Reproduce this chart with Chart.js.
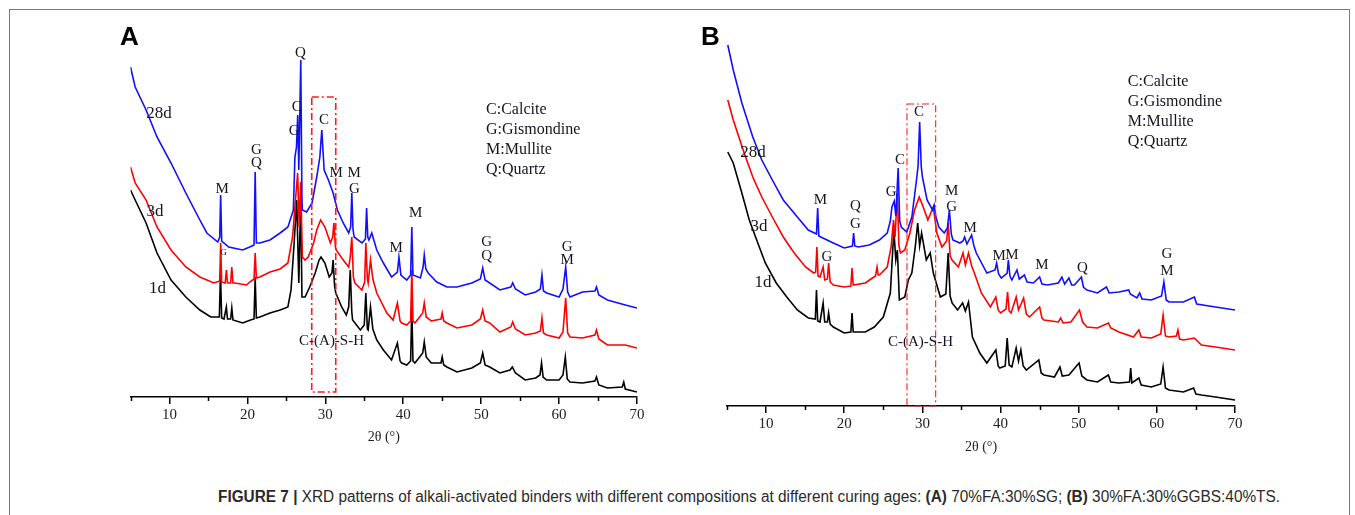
<!DOCTYPE html>
<html><head><meta charset="utf-8">
<script src="https://cdn.jsdelivr.net/npm/chart.js@4.4.0/dist/chart.umd.min.js"></script>
<style>
html,body{margin:0;padding:0;background:#fff;width:1355px;height:515px;overflow:hidden;}
#frame{position:absolute;left:9px;top:9px;width:1341px;height:600px;border:1.5px solid #7a7a7a;box-sizing:border-box;}
canvas{position:absolute;top:0;}
#cA{left:0px}
#cB{left:677px}
#cap{position:absolute;left:218px;top:487px;white-space:nowrap;font-family:'Liberation Sans Narrow','Liberation Sans',Arial,sans-serif;font-size:16px;line-height:20px;color:#2a2a2a;transform-origin:0 0;}
</style></head><body>
<div id="frame"></div>
<canvas id="cA" width="677" height="460"></canvas>
<canvas id="cB" width="678" height="470"></canvas>
<div id="cap"><b>FIGURE 7 |</b> XRD patterns of alkali-activated binders with different compositions at different curing ages: <b>(A)</b> 70%FA:30%SG; <b>(B)</b> 30%FA:30%GGBS:40%TS.</div>
<script>
// ---------- DATA (2θ in degrees, intensity in arbitrary units) ----------
const majorTicks = [10, 20, 30, 40, 50, 60, 70];
const minorTicks = [5, 15, 25, 35, 45, 55, 65];
const seriesNames = ['28d', '3d', '1d'];

// Panel A: 70%FA:30%SG
const thetaA28 = [5.0,5.6,7.0,8.4,10.2,12.1,13.9,14.8,16.2,16.45,16.57,16.7,17.6,19.4,20.3,20.85,21.0,21.15,21.6,22.9,24.2,25.2,25.9,26.1,26.3,26.46,26.6,26.85,27.0,27.05,27.6,28.3,28.9,29.3,29.55,29.85,30.4,31.0,31.55,32.3,33.0,33.25,33.4,33.55,33.7,34.7,35.15,35.3,35.45,35.6,35.96,36.6,37.45,38.5,39.25,39.45,39.7,40.45,40.95,41.1,41.25,42.2,42.55,42.7,42.9,43.2,44.3,45.6,46.9,48.8,49.9,50.2,50.5,51.1,52.4,53.8,54.05,54.4,55.65,57.0,57.6,57.8,58.0,58.4,60.0,60.5,60.85,61.1,61.4,63.0,64.6,64.8,65.1,66.2,68.5,70.0];
const intA28   = [330,310,287,260,234,204,177,164,155,160,202,156,150,147,150,152,225,154,154,157,164,170,187,240,250,282,227,337,200,187,185,194,220,240,267,227,217,204,187,174,164,170,204,168,160,154,158,189,160,157,164,147,134,120,125,140,122,117,122,170,122,119,130,142,128,124,115,110,110,114,118,129,117,114,107,110,114,108,102,105,108,122,106,104,100,108,130,105,100,105,106,110,102,97,92,89];

const thetaA3 = [5.0,5.6,7.0,8.4,10.2,12.1,13.9,15.7,16.45,16.57,16.7,17.15,17.3,17.45,17.85,18.0,18.15,18.4,19.9,20.3,20.85,21.0,21.15,21.6,22.9,24.2,25.2,25.8,26.1,26.45,26.65,26.85,27.05,27.4,27.8,28.5,28.9,29.4,29.95,30.65,30.95,31.1,31.3,31.4,32.3,33.0,33.2,33.4,33.6,33.8,34.7,35.05,35.2,35.4,35.5,35.8,36.1,36.6,37.9,38.7,39.25,39.6,39.8,40.45,40.95,41.1,41.25,41.5,42.5,42.7,42.95,43.6,44.85,45.0,45.2,45.6,46.9,48.8,49.9,50.2,50.5,51.1,52.4,53.8,54.05,54.4,55.65,57.0,57.6,57.8,58.0,58.4,60.0,60.5,60.85,61.1,61.4,63.0,64.6,64.8,65.1,66.2,68.5,70.0];
const intA3   = [230,214,197,170,147,130,120,114,116,154,115,114,127,114,114,130,114,114,112,115,118,144,119,120,125,128,134,160,190,224,170,215,140,137,140,154,167,177,170,154,160,174,150,147,137,130,140,160,120,114,107,115,154,118,114,137,118,104,84,77,94,76,74,72,76,127,76,74,84,94,80,76,78,84,76,74,69,72,78,87,76,74,65,70,75,68,62,64,66,79,64,62,59,65,99,64,60,59,62,67,58,52,52,49];

const thetaA1 = [5.0,5.6,7.0,8.4,10.2,12.1,13.9,15.3,16.4,16.55,16.7,17.0,17.3,17.45,17.85,18.0,18.15,19.4,20.4,20.85,21.0,21.15,21.6,22.9,24.2,25.2,25.6,26.0,26.33,26.6,26.85,27.0,27.4,28.0,28.7,29.2,29.45,29.95,30.5,30.85,31.0,31.2,31.35,32.1,32.7,33.0,33.2,33.4,33.5,34.5,35.0,35.2,35.4,35.5,35.8,36.1,36.6,37.45,38.5,39.25,39.6,39.8,40.45,40.95,41.1,41.25,41.5,42.5,42.7,42.95,43.6,44.85,45.0,45.2,45.6,46.9,48.8,49.9,50.2,50.5,51.1,52.4,53.7,54.0,54.4,55.65,57.0,57.55,57.75,57.95,58.4,60.0,60.5,60.8,61.05,61.4,63.0,64.6,64.8,65.1,66.2,68.1,68.3,68.5,70.0];
const intA1   = [207,197,174,144,117,100,87,80,80,124,79,78,90,78,78,89,77,74,77,78,120,79,80,84,87,90,107,154,197,114,200,100,100,110,124,137,140,134,120,124,137,110,104,90,82,90,127,85,77,67,72,104,68,67,90,68,57,47,37,54,36,34,32,36,90,36,34,44,55,40,34,34,40,32,30,25,29,34,44,32,30,24,27,30,24,17,19,22,34,20,17,17,22,40,18,15,14,16,20,12,9,10,15,8,5];

// Panel B: 30%FA:30%GGBS:40%TS
const thetaB28 = [5.1,5.8,6.9,8.3,9.45,10.8,12.2,14.0,15.4,16.45,16.6,16.75,17.0,18.6,20.0,21.05,21.2,21.35,21.8,23.2,24.5,25.5,25.9,26.1,26.4,26.6,26.9,27.1,27.3,28.0,28.65,29.2,29.45,29.65,29.85,30.0,30.6,31.3,31.5,31.7,32.1,32.8,33.2,33.45,33.7,33.9,34.8,35.2,35.4,35.7,36.3,36.6,36.9,38.25,39.3,39.5,39.75,40.1,40.85,41.0,41.2,41.45,42.1,42.4,43.05,43.4,44.2,45.0,45.3,46.0,47.4,47.85,48.2,48.75,49.1,49.45,50.35,50.6,51.05,52.4,53.55,53.9,55.15,56.4,56.6,57.45,57.8,58.1,59.3,60.6,60.9,61.2,61.55,63.4,64.8,65.1,67.5,70.0];
const intB28   = [361,336,303,269,246,226,206,189,176,172,198,170,169,163,158,160,173,160,159,161,166,173,185,199,205,190,238,185,179,174,189,223,240,284,240,229,206,196,201,190,179,173,178,196,172,166,163,165,169,162,171,160,153,133,136,143,132,128,133,146,130,126,136,127,131,124,123,129,122,121,123,129,122,128,121,121,129,119,116,113,119,113,114,116,112,108,113,107,106,110,124,106,104,104,109,102,99,96];

const thetaB3 = [5.1,5.8,7.2,8.3,9.45,10.8,12.2,13.6,15.05,16.1,16.35,16.5,16.65,16.9,17.3,17.5,17.85,18.0,18.2,18.6,20.0,20.85,21.0,21.15,22.7,23.6,24.0,24.2,24.35,24.5,25.5,26.0,26.3,26.5,26.8,27.0,27.2,27.75,28.4,29.0,29.6,30.1,30.7,31.4,31.85,32.5,33.1,33.3,33.55,33.8,34.6,35.2,35.5,35.9,36.3,36.65,37.55,38.7,39.4,39.7,40.0,40.7,40.9,41.1,41.35,42.0,42.3,42.95,43.3,43.7,45.0,45.3,45.55,47.4,47.7,48.0,49.0,50.1,50.5,51.05,52.4,53.8,54.1,55.15,57.0,57.7,58.0,59.3,60.5,60.8,61.1,61.55,62.5,62.7,62.9,63.4,64.8,65.7,67.5,70.0];
const intB3   = [306,286,253,229,209,189,169,153,139,133,134,159,130,129,139,126,127,143,124,121,119,120,138,121,123,128,130,139,131,131,139,159,186,169,213,160,153,156,173,196,209,199,186,199,173,159,165,183,150,146,139,153,141,153,140,133,113,99,109,96,93,97,114,95,93,109,96,108,92,89,99,88,86,84,88,83,84,96,84,79,78,83,78,74,69,76,69,68,72,91,70,69,70,76,67,66,68,61,59,56];

const thetaB1 = [5.1,5.8,6.9,7.85,8.8,9.9,11.3,12.65,14.0,15.4,16.3,16.45,16.6,16.9,17.3,17.5,17.85,18.0,18.2,18.6,20.0,20.85,21.0,21.15,22.7,23.85,25.0,25.9,26.35,26.6,26.8,27.05,27.75,28.2,28.65,29.1,29.4,29.65,29.9,30.5,31.0,31.4,32.3,33.0,33.3,33.55,33.8,34.5,35.15,35.5,35.9,36.4,37.35,38.25,39.4,39.7,39.9,40.6,40.85,41.1,41.45,42.0,42.3,42.6,42.9,43.3,44.9,45.2,45.55,46.9,47.6,47.9,48.75,50.05,50.4,51.05,52.4,53.8,54.1,55.15,56.5,56.65,56.8,57.7,58.0,59.3,60.5,60.8,61.1,61.55,63.4,64.7,65.0,65.7,67.5,70.0];
const intB1   = [254,243,213,186,166,143,123,109,96,88,87,116,85,84,103,84,84,93,82,79,73,74,93,74,74,79,89,113,176,146,156,106,109,126,133,160,183,160,173,146,153,133,109,112,153,110,103,96,103,95,104,69,53,43,56,40,38,40,68,41,39,58,45,56,40,36,46,33,31,29,39,30,31,43,30,26,24,31,24,23,24,38,23,28,21,19,22,39,18,16,14,18,12,11,9,6];

// ---------- ANNOTATIONS (text + phase markers) ----------
const legendText = ['C:Calcite', 'G:Gismondine', 'M:Mullite', 'Q:Quartz'];
const labelsA = [
  ['28d',8.66,283,'age'],['3d',8.15,185.5,'age'],['1d',8.45,108,'age'],
  ['M',16.75,208,'pk'],['G',16.94,144,'sm'],['G',21.17,247,'pk'],['Q',21.17,233.5,'pk'],
  ['C',26.34,290,'pk'],['G',25.99,266,'pk'],['Q',26.82,344,'pk'],['C',29.84,277,'pk'],
  ['M',31.38,224,'pk'],['M',33.69,224,'pk'],['G',33.75,207.7,'pk'],['M',39.08,149,'pk'],
  ['M',41.6,183.7,'pk'],['G',50.7,155,'pk'],['Q',50.7,141,'pk'],['G',61.03,150,'pk'],['M',61.03,137,'pk'],
  ['C-(A)-S-H',30.8,55.5,'pk']
];
const legendA = {theta:50.63, top:287.7, step:20};
const rectA = [28.26, 31.34, 5, 300];
const labelsB = [
  ['28d',8.33,253.5,'age'],['3d',9.1,179.5,'age'],['1d',9.6,123,'age'],
  ['M',16.96,206,'pk'],['Q',21.44,199.5,'pk'],['G',21.44,182,'pk'],['G',17.8,148.5,'pk'],
  ['G',26.02,214.3,'pk'],['C',27.14,246,'pk'],['C',29.57,294.3,'pk'],['M',33.75,215.3,'pk'],['G',33.75,199.3,'pk'],
  ['M',36.1,178,'pk'],['M',39.82,149.5,'pk'],['M',41.47,151,'pk'],['M',45.3,141,'pk'],['Q',50.49,138,'pk'],
  ['G',61.3,152,'pk'],['M',61.3,134.5,'pk'],['C-(A)-S-H',29.76,64.3,'pk']
];
const legendB = {theta:56.29, top:324.3, step:20};
const rectB = [28.03, 31.7, 0, 302];

// ---------- CHART BUILDING ----------
const colors = ['#1010ff', '#ff0000', '#000000'];
function pts(xs, ys){ return xs.map((v,i)=>({x:v, y:ys[i]})); }

function annotPlugin(labels, legend, rect, rectW, letter, letterX){
  return {
    id:'annot',
    afterDraw(chart){
      const {ctx, scales:{x, y}} = chart;
      ctx.save();
      // minor ticks
      ctx.strokeStyle = '#000'; ctx.lineWidth = 1.5;
      minorTicks.forEach(t=>{
        const px = Math.round(x.getPixelForValue(t))+0.5;
        ctx.beginPath(); ctx.moveTo(px, x.top); ctx.lineTo(px, x.top+4); ctx.stroke();
      });
      // dash-dot rectangle (C-(A)-S-H region)
      ctx.strokeStyle = '#ff1a1a'; ctx.lineWidth = rectW; ctx.setLineDash([7,3,2,3]);
      const x0 = x.getPixelForValue(rect[0]), x1 = x.getPixelForValue(rect[1]);
      const y0 = y.getPixelForValue(rect[3]), y1 = y.getPixelForValue(rect[2]);
      ctx.strokeRect(x0, y0, x1-x0, y1-y0);
      ctx.setLineDash([]);
      // peak / age labels
      ctx.fillStyle = '#151520'; ctx.textAlign = 'center'; ctx.textBaseline = 'middle';
      labels.forEach(([t, th, v, kind])=>{
        const size = kind==='age' ? 17 : (kind==='sm' ? 9 : 15);
        ctx.font = size + 'px "Liberation Serif"';
        ctx.fillText(t, x.getPixelForValue(th), y.getPixelForValue(v));
      });
      // phase legend
      ctx.textAlign = 'left'; ctx.font = '16px "Liberation Serif"';
      legendText.forEach((t,i)=>{
        ctx.fillText(t, x.getPixelForValue(legend.theta), y.getPixelForValue(legend.top - i*legend.step));
      });
      // panel letter
      ctx.textBaseline = 'alphabetic'; ctx.font = 'bold 26px "Liberation Sans"'; ctx.fillStyle = '#000';
      ctx.fillText(letter, letterX, 45);
      ctx.restore();
    }
  };
}

function makeChart(id, data, padding, axisH, labels, legend, rect, rectW, letter, letterX){
  new Chart(document.getElementById(id), {
    type:'line',
    data:{ datasets: data.map((d,i)=>({
      label: seriesNames[i], data: pts(d[0], d[1]), borderColor: colors[i],
      borderWidth: 1.6, pointRadius: 0, tension: 0, fill:false
    }))},
    options:{
      responsive:false, animation:false, devicePixelRatio:1,
      layout:{ padding },
      plugins:{ legend:{display:false}, tooltip:{enabled:false} },
      scales:{
        x:{ type:'linear', min:5, max:70,
          afterBuildTicks: s=>{ s.ticks = majorTicks.map(v=>({value:v})); },
          afterFit: s=>{ s.height = axisH; },
          border:{ display:true, color:'#000', width:1.5 },
          grid:{ display:true, drawOnChartArea:false, drawTicks:true, tickLength:7, color:'#000', lineWidth:1.5 },
          ticks:{ autoSkip:false, maxRotation:0, padding:2, color:'#222', font:{family:'Liberation Serif', size:15} },
          title:{ display:true, text:'2θ (°)', color:'#222', font:{family:'Liberation Serif', size:14}, padding:{top:0, bottom:14} }
        },
        y:{ display:false, min:0, max:370 }
      }
    },
    plugins:[annotPlugin(labels, legend, rect, rectW, letter, letterX)]
  });
}

makeChart('cA', [[thetaA28,intA28],[thetaA3,intA3],[thetaA1,intA1]],
  {left:130.5, right:40, top:27, bottom:0}, 63, labelsA, legendA, rectA, 1.6, 'A', 120);
makeChart('cB', [[thetaB28,intB28],[thetaB3,intB3],[thetaB1,intB1]],
  {left:50, right:120, top:36, bottom:0}, 64, labelsB, legendB, rectB, 1.1, 'B', 24);

// fit caption width to the reference
const cap = document.getElementById('cap');
const w = cap.getBoundingClientRect().width;
cap.style.transform = 'scaleX(' + (1062 / w) + ')';
</script>
</body></html>
